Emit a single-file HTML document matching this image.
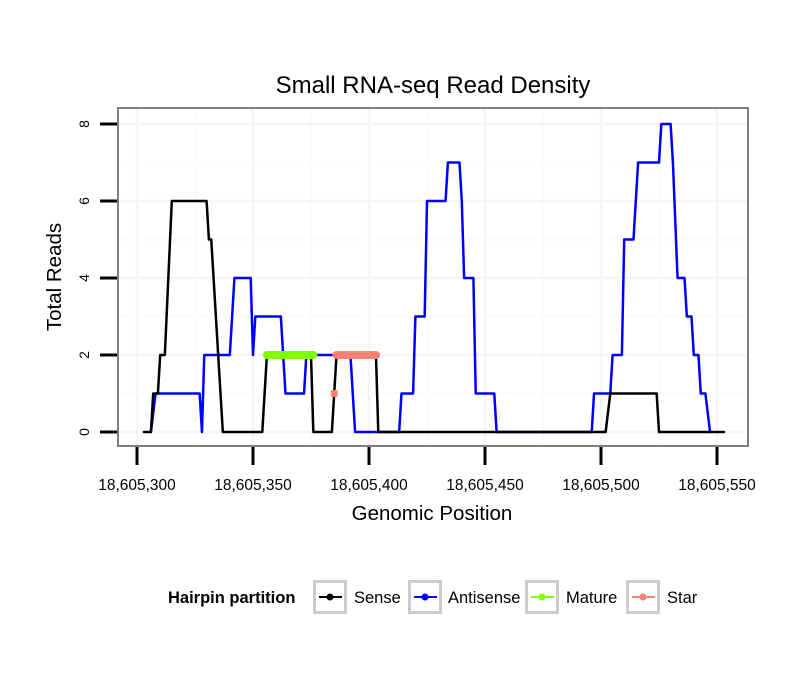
<!DOCTYPE html>
<html><head><meta charset="utf-8"><style>
body{margin:0;background:#fff;}
svg{font-family:"Liberation Sans",sans-serif;}
</style></head><body>
<svg id="chart" width="810" height="690" xmlns="http://www.w3.org/2000/svg">
<rect width="810" height="690" fill="#fff"/>
<text x="433" y="93" text-anchor="middle" font-size="24">Small RNA-seq Read Density</text>
<g id="grid"></g>
<g id="series"></g>
<rect x="118" y="108" width="630" height="338" fill="none" stroke="#7f7f7f" stroke-width="2"/>
<g id="axes"></g>
<text x="432" y="520" text-anchor="middle" font-size="20.5">Genomic Position</text>
<text transform="translate(61,277) rotate(-90)" text-anchor="middle" font-size="20.5">Total Reads</text>
<g>
<text x="168" y="603" font-size="16.5" font-weight="bold">Hairpin partition</text>
<g id="legend"></g>
</g>
</svg>
<script>
const xTicks=[300,350,400,450,500,550];
const xTickLabels=["18,605,300","18,605,350","18,605,400","18,605,450","18,605,500","18,605,550"];
const yTicks=[0,2,4,6,8];
const senseX=[303,306,307,309,310,312,315,330,331,332,337,354,356,375,376,384,385,386,403,404,502,504,524,525,553];
const senseY=[0,0,1,1,2,2,6,6,5,5,0,0,2,2,0,0,1,2,2,0,0,1,1,0,0];
const antiX=[306,308,327,328,329,340,342,349,350,351,362,364,372,373,392,394,413,414,419,420,424,425,433,434,439,440,441,445,446,454,455,496,497,504,505,509,510,514,516,525,526,530,531,533,536,537,539,540,542,543,545,547];
const antiY=[0,1,1,0,2,2,4,4,2,3,3,1,1,2,2,0,0,1,1,3,3,6,6,7,7,6,4,4,1,1,0,0,1,1,2,2,5,5,7,7,8,8,7,4,4,3,3,2,2,1,1,0];
const matureX=[356,376];
const starX=[386,403];
const partitionY=2;
const starDotX=[385];const starDotY=[1];
const legendNames=["Sense","Antisense","Mature","Star"];
const legendColors=["#000","#0000ff","#7fff00","#fa8072"];

const sx=g=>137+(g-300)*2.32;
const sy=v=>432-38.5*v;
const NS="http://www.w3.org/2000/svg";
function mk(parent,tag,attrs){const e=document.createElementNS(NS,tag);for(const k in attrs)e.setAttribute(k,attrs[k]);parent.appendChild(e);return e;}
const grid=document.getElementById('grid'),series=document.getElementById('series'),axes=document.getElementById('axes'),legend=document.getElementById('legend');
for(let i=0;i<xTicks.length;i++){
  const x=sx(xTicks[i]);
  let l=mk(grid,'line',{x1:x,x2:x,y1:108,y2:446,stroke:'#f5f5f5','stroke-width':2.5});
  
  
  if(i<xTicks.length-1){const xm=sx((xTicks[i]+xTicks[i+1])/2);
  let m=mk(grid,'line',{x1:xm,x2:xm,y1:108,y2:446,stroke:'#fbfbfb','stroke-width':2});
  
  }
}
for(let i=0;i<yTicks.length;i++){
  const y=sy(yTicks[i]);
  let l=mk(grid,'line',{x1:118,x2:748,y1:y,y2:y,stroke:'#f5f5f5','stroke-width':2.5});
  
  
  if(i<yTicks.length-1){const ym=sy((yTicks[i]+yTicks[i+1])/2);
  let m=mk(grid,'line',{x1:118,x2:748,y1:ym,y2:ym,stroke:'#fbfbfb','stroke-width':2});
  
  }
}
xTicks.forEach((t,i)=>{const x=sx(t);
  let l=mk(axes,'line',{x1:x,x2:x,y1:447,y2:465,stroke:'#000','stroke-width':3});
  
  
  let tx=mk(axes,'text',{x:x,y:490,'text-anchor':'middle','font-size':15.5});tx.textContent=xTickLabels[i];
  
  
});
yTicks.forEach(t=>{const y=sy(t);
  let l=mk(axes,'line',{x1:100,x2:117,y1:y,y2:y,stroke:'#000','stroke-width':3});
  
  
  let tx=mk(axes,'text',{transform:`translate(89,${y}) rotate(-90)`,'text-anchor':'middle','font-size':14});tx.textContent=t;
  
  
});
function line(xs,ys,color,w,name){
  const p=mk(series,'polyline',{points:xs.map((x,i)=>sx(x)+','+sy(ys[i])).join(' '),fill:'none',stroke:color,'stroke-width':w,'stroke-linejoin':'round','stroke-linecap':'round'});
  
  
}
line(antiX,antiY,'#0000ff',2.5,'antisense-line');
line(senseX,senseY,'#000',2.5,'sense-line');
line(matureX,matureX.map(()=>partitionY),'#7fff00',8,'mature-segment');
line(starX,starX.map(()=>partitionY),'#fa8072',8,'star-segment');
starDotX.forEach((x,i)=>{let r=mk(series,'rect',{x:sx(x)-3.5,y:sy(starDotY[i])-3.5,width:7,height:7,rx:2,fill:'#fa8072'});
  
  });
const keyX=[313,408,525,626],labX=[354,448,566,667];
legendNames.forEach((n,i)=>{
  const g=mk(legend,'g',{});
  
  
  mk(g,'rect',{x:keyX[i]+1.5,y:581.5,width:31,height:31,fill:'#fff',stroke:'#cccccc','stroke-width':3});
  mk(g,'line',{x1:keyX[i]+6,x2:keyX[i]+29,y1:597,y2:597,stroke:legendColors[i],'stroke-width':2});
  mk(g,'circle',{cx:keyX[i]+17,cy:597,r:3.5,fill:legendColors[i]});
  const t=mk(g,'text',{x:labX[i],y:603,'font-size':16.5});t.textContent=n;
});
</script>
</body></html>
